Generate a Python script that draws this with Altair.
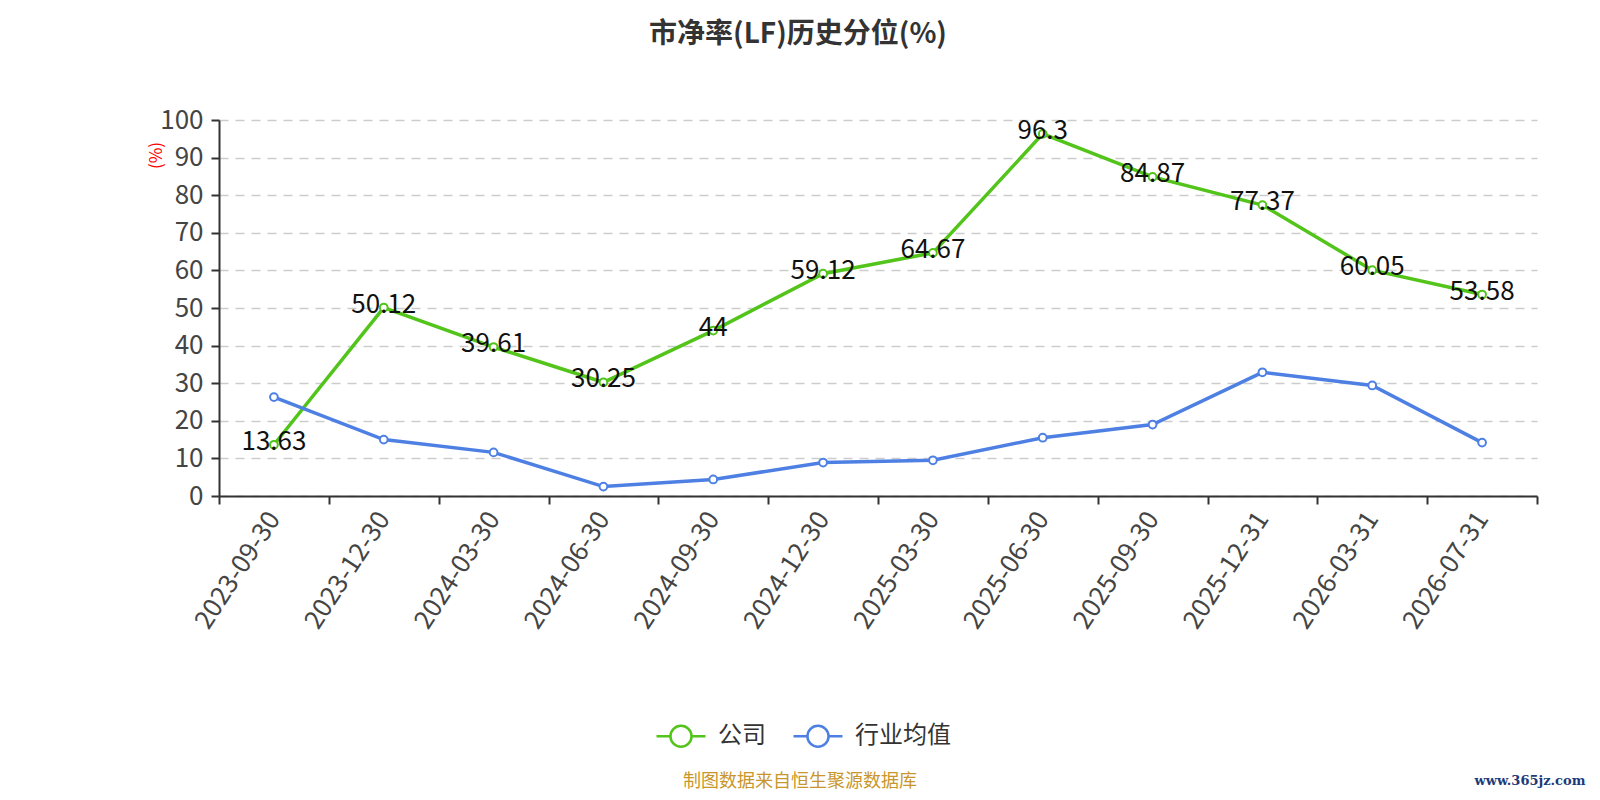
import altair as alt
import pandas as pd

dates = ["2023-09-30", "2023-12-30", "2024-03-30", "2024-06-30", "2024-09-30", "2024-12-30",
         "2025-03-30", "2025-06-30", "2025-09-30", "2025-12-31", "2026-03-31", "2026-07-31"]
company = [13.63, 50.12, 39.61, 30.25, 44, 59.12, 64.67, 96.3, 84.87, 77.37, 60.05, 53.58]
industry = [26.3, 15.0, 11.6, 2.5, 4.4, 8.9, 9.5, 15.5, 19.0, 32.9, 29.4, 14.2]
series_names = ["公司", "行业均值"]
series_colors = ["#52c41a", "#4e80e4"]

rows = []
for d, c, i in zip(dates, company, industry):
    rows.append({"date": d, "series": series_names[0], "value": c, "label": f"{c:g}"})
    rows.append({"date": d, "series": series_names[1], "value": i, "label": ""})
df = pd.DataFrame(rows)

FONT = "Noto Sans CJK SC"
legend_path = ("M-1,0L-0.43,0M0.43,0L1,0"
               "M0.43,0A0.43,0.43,0,1,1,-0.43,0A0.43,0.43,0,1,1,0.43,0Z")

x = alt.X("date:N", sort=dates, title=None,
          scale=alt.Scale(paddingInner=0, paddingOuter=0),
          axis=alt.Axis(labelAngle=-57, labelAlign="right", labelBaseline="middle",
                        labelFontSize=26, labelColor="#444", labelFont=FONT, labelPadding=10,
                        tickBand="extent", tickColor="#333", tickSize=8, tickWidth=2,
                        domainColor="#333", domainWidth=2, grid=False))
y = alt.Y("value:Q", title="(%)",
          scale=alt.Scale(domain=[0, 100], nice=False),
          axis=alt.Axis(values=list(range(0, 101, 10)), labelFontSize=26, labelColor="#444",
                        labelFont=FONT, labelPadding=8, tickColor="#333", tickSize=8,
                        tickWidth=2, domainColor="#333", domainWidth=2,
                        grid=True, gridColor="#cccccc", gridDash=[9, 7], gridWidth=1.5,
                        titleColor="red", titleFontSize=17, titleFont=FONT,
                        titleFontWeight="normal", titleAngle=-90, titleAnchor="end",
                        titleX=-63, titleY=35, titleAlign="center", titleBaseline="middle"))
color = alt.Color("series:N", sort=series_names,
                  scale=alt.Scale(domain=series_names, range=series_colors),
                  legend=alt.Legend(title=None, orient="none", direction="horizontal",
                                    legendX=436, legendY=590,
                                    symbolType=legend_path, symbolSize=2400,
                                    symbolStrokeWidth=2.5, symbolFillColor="white",
                                    labelFontSize=24, labelColor="#333", labelFont=FONT,
                                    columnPadding=22, labelOffset=11))

base = alt.Chart(df)
lines = base.mark_line(strokeWidth=3.5).encode(x=x, y=y, color=color)
points = base.mark_point(filled=False, fill="white", size=60, strokeWidth=2,
                         opacity=1).encode(x=x, y=y, color=color)
labels = base.transform_filter(alt.datum.series == series_names[0]).mark_text(
    fontSize=26, font=FONT, color="#111", baseline="middle", dy=-3
).encode(x=x, y=y, text="label:N")

footer = alt.Chart(pd.DataFrame({"t": ["制图数据来自恒生聚源数据库"]})).mark_text(
    fontSize=18, font=FONT, color="#c8962d", align="center", baseline="middle"
).encode(x=alt.value(581), y=alt.value(662), text="t:N")
mark_wm = alt.Chart(pd.DataFrame({"t": ["www.365jz.com"]})).mark_text(
    fontSize=13, font="DejaVu Serif", fontWeight="bold", color="#1c3a78", align="center",
    baseline="middle"
).encode(x=alt.value(1311), y=alt.value(661), text="t:N")

chart = alt.layer(lines, points, labels, footer, mark_wm).properties(
    width=1318, height=376,
    autosize=alt.AutoSizeParams(type="none"),
    padding={"left": 211, "top": 112, "right": 55, "bottom": 296},
    title=alt.Title("市净率(LF)历史分位(%)", fontSize=28, font=FONT, fontWeight="bold",
                    color="#333", anchor="middle", dx=-80, offset=58),
).configure_view(stroke=None)

chart.save("out.html", embed_options={"renderer": "svg", "actions": False})
